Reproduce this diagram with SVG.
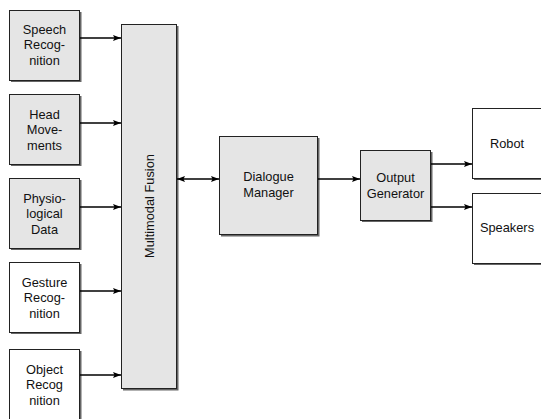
<svg xmlns="http://www.w3.org/2000/svg" width="541" height="419" viewBox="0 0 541 419">
<style>
.box{stroke:#222;stroke-width:1;}
.gray{fill:#e5e5e5;}
.white{fill:#fff;}
.shadow{fill:#666;}
text{font-family:"Liberation Sans","DejaVu Sans",sans-serif;font-size:12.8px;fill:#111;text-anchor:middle;}
.conn line{stroke:#000;stroke-width:1.6;}
</style>
<defs>
<marker id="ah" viewBox="0 0 8 6" refX="8" refY="3" markerWidth="8" markerHeight="6" markerUnits="userSpaceOnUse" orient="auto-start-reverse">
<path d="M0,0 L8,3 L0,6 L1.5,3 Z" fill="#000"/>
</marker>
</defs>
<rect width="541" height="419" fill="#fff"/>
<g id="speech">
<rect class="shadow" x="11" y="12" width="70.5" height="70"/>
<rect class="box gray" x="9.5" y="10.5" width="70" height="70"/>
<text x="44.5" y="33.5">Speech</text><text x="44.5" y="49">Recog-</text><text x="44.5" y="64.5">nition</text>
</g>
<g id="head">
<rect class="shadow" x="11" y="96" width="70.5" height="70"/>
<rect class="box gray" x="9.5" y="94.5" width="70" height="70"/>
<text x="44.5" y="118.5">Head</text><text x="44.5" y="134">Move-</text><text x="44.5" y="149.5">ments</text>
</g>
<g id="physio">
<rect class="shadow" x="11" y="180" width="70.5" height="70"/>
<rect class="box gray" x="9.5" y="178.5" width="70" height="70"/>
<text x="44.5" y="202.5">Physio-</text><text x="44.5" y="218">logical</text><text x="44.5" y="233.5">Data</text>
</g>
<g id="gesture">
<rect class="shadow" x="11" y="264" width="70.5" height="70"/>
<rect class="box white" x="9.5" y="262.5" width="70" height="70"/>
<text x="44.5" y="286.5">Gesture</text><text x="44.5" y="302">Recog-</text><text x="44.5" y="317.5">nition</text>
</g>
<g id="object">
<rect class="shadow" x="11" y="351" width="70.5" height="70"/>
<rect class="box white" x="9.5" y="349.5" width="70" height="72"/>
<text x="44.5" y="373.5">Object</text><text x="44.5" y="389">Recog</text><text x="44.5" y="404.5">nition</text>
</g>
<g id="fusion">
<rect class="shadow" x="123" y="26" width="55.5" height="364.5"/>
<rect class="box gray" x="121.5" y="24.5" width="55" height="364"/>
<text transform="translate(153.5,206) rotate(-90)">Multimodal Fusion</text>
</g>
<g id="dialogue">
<rect class="shadow" x="221" y="138" width="98.5" height="98.5"/>
<rect class="box gray" x="219.5" y="136.5" width="98" height="98"/>
<text x="268.5" y="181">Dialogue</text><text x="268.5" y="196.5">Manager</text>
</g>
<g id="output">
<rect class="shadow" x="362" y="152" width="70.5" height="70"/>
<rect class="box gray" x="360.5" y="150.5" width="70" height="70"/>
<text x="395.5" y="182">Output</text><text x="395.5" y="197.5">Generator</text>
</g>
<g id="robot">
<rect class="shadow" x="474" y="110" width="71" height="70"/>
<rect class="box white" x="472.5" y="108.5" width="72" height="70"/>
<text x="507" y="147.5">Robot</text>
</g>
<g id="speakers">
<rect class="shadow" x="474" y="195" width="71" height="70"/>
<rect class="box white" x="472.5" y="193.5" width="72" height="70"/>
<text x="507" y="232">Speakers</text>
</g>
<g class="conn">
<line x1="80" y1="38" x2="121" y2="38" marker-end="url(#ah)"/>
<line x1="80" y1="123" x2="121" y2="123" marker-end="url(#ah)"/>
<line x1="80" y1="207" x2="121" y2="207" marker-end="url(#ah)"/>
<line x1="80" y1="291" x2="121" y2="291" marker-end="url(#ah)"/>
<line x1="80" y1="375" x2="121" y2="375" marker-end="url(#ah)"/>
<line x1="177" y1="179" x2="219" y2="179" marker-start="url(#ah)" marker-end="url(#ah)"/>
<line x1="318" y1="179" x2="360" y2="179" marker-end="url(#ah)"/>
<line x1="431" y1="164" x2="472" y2="164" marker-end="url(#ah)"/>
<line x1="431" y1="207" x2="472" y2="207" marker-end="url(#ah)"/>
</g>
</svg>
